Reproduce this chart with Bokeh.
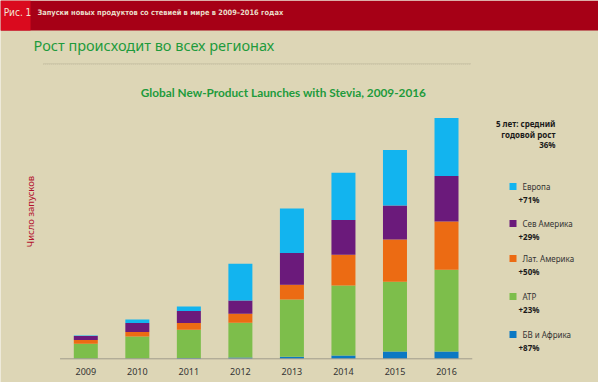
from bokeh.plotting import figure
from bokeh.models import ColumnDataSource, Label, BoxAnnotation, Range1d
from bokeh.core.properties import value
from bokeh.embed import file_html
from bokeh.resources import INLINE

# ---- data ----
years = [2009, 2010, 2011, 2012, 2013, 2014, 2015, 2016]
year_labels = [str(y) for y in years]
mea = [3, 3, 7, 13, 20, 33, 73, 73]
apac = [147, 220, 283, 347, 573, 700, 697, 817]
latam = [37, 44, 67, 90, 147, 307, 423, 483]
north_america = [40, 90, 120, 133, 317, 347, 340, 454]
europe = [6, 36, 46, 367, 446, 473, 554, 580]

series_keys = ["mea", "apac", "latam", "na", "europe"]
series_names = ["БВ и Африка", "АТР", "Лат. Америка", "Сев Америка", "Европа"]
series_growth = ["+87%", "+23%", "+50%", "+29%", "+71%"]
series_colors = ["#0B78C3", "#7DBE4B", "#EC6B13", "#6B1A7B", "#12B4EF"]

header_tag = "Рис. 1"
header_text = "Запуски новых продуктов со стевией в мире в 2009–2016 годах"
subtitle = "Рост происходит во всех регионах"
chart_title = "Global New-Product Launches with Stevia, 2009-2016"
y_label = "Число запусков"
note_lines = ["5 лет: средний", "годовой рост", "36%"]

BG = "#DDD6B6"
W, H = 598, 382
COND = "'DejaVu Sans Condensed', 'Liberation Sans', sans-serif"


def sx(px):
    return px


def sy(py):
    return H - py


# scale: pixels per year and units per pixel
px_per_year = 51.53
units_per_px = 10.0
first_center = sx(85.3)
base_px = sy(358.3)

x0 = years[0] - first_center / px_per_year
y0 = -base_px * units_per_px

p = figure(width=W, height=H, output_backend="svg", toolbar_location=None,
           x_range=Range1d(x0, x0 + W / px_per_year),
           y_range=Range1d(y0, y0 + H * units_per_px),
           x_axis_location=None, y_axis_location=None, min_border=0)
p.grid.visible = False
p.outline_line_color = None
p.background_fill_color = BG
p.border_fill_color = BG

src = ColumnDataSource(dict(x=years, mea=mea, apac=apac, latam=latam,
                            na=north_america, europe=europe))
p.vbar_stack(series_keys, x="x", width=24 / px_per_year, source=src,
             color=series_colors, line_color=None)

# baseline
p.line(x=[years[0] - 0.5, years[-1] + 0.5], y=[0, 0], line_color="#A09C8C", line_width=1)

# year labels
p.text(x=years, y=[0] * len(years), text=year_labels, y_offset=13,
       text_align="center", text_baseline="middle",
       text_font=value("Noto Sans"), text_font_size="9px", text_color="#333333")

# header band
p.add_layout(BoxAnnotation(left=0, right=W, bottom=sy(30), top=H,
                           left_units="screen", right_units="screen",
                           bottom_units="screen", top_units="screen",
                           fill_color="#A60016", fill_alpha=1, line_color=None, level="underlay"))
p.add_layout(BoxAnnotation(left=0, right=sx(30), bottom=sy(30), top=H,
                           left_units="screen", right_units="screen",
                           bottom_units="screen", top_units="screen",
                           fill_color="#DA0A1E", fill_alpha=1, line_color=None, level="underlay"))
p.add_layout(Label(x=sx(17), y=sy(12), x_units="screen", y_units="screen", text=header_tag,
                   text_align="center", text_baseline="middle", text_color="#F2E6D6",
                   text_font=COND, text_font_size="10px"))
p.add_layout(Label(x=sx(37), y=sy(12), x_units="screen", y_units="screen", text=header_text,
                   text_align="left", text_baseline="middle", text_color="#EADCC8",
                   text_font=COND, text_font_style="bold", text_font_size="7.4px"))

# subtitle
p.add_layout(Label(x=sx(33), y=sy(44), x_units="screen", y_units="screen", text=subtitle,
                   text_align="left", text_baseline="middle", text_color="#1E9B3C",
                   text_font="Noto Sans", text_font_size="14.5px"))

# dotted rule
p.add_layout(BoxAnnotation(left=sx(43), right=sx(470), bottom=sy(63.8), top=sy(63),
                           left_units="screen", right_units="screen",
                           bottom_units="screen", top_units="screen",
                           fill_alpha=0, line_color="#8C8670", line_width=1, line_dash="1 1"))

# chart title
p.add_layout(Label(x=sx(283), y=sy(92), x_units="screen", y_units="screen", text=chart_title,
                   text_align="center", text_baseline="middle", text_color="#1E9B3C",
                   text_font="Lato", text_font_style="bold", text_font_size="11.8px"))

# y label
p.add_layout(Label(x=sx(30), y=sy(211), x_units="screen", y_units="screen", text=y_label,
                   angle=1.5708, text_align="center", text_baseline="middle",
                   text_color="#B3122E", text_font="Noto Sans", text_font_size="9.5px"))

# note
for i, t in enumerate(note_lines):
    p.add_layout(Label(x=sx(555), y=sy(123 + 10.5 * i), x_units="screen", y_units="screen",
                       text=t, text_align="right", text_baseline="middle", text_color="#1A1A1A",
                       text_font="Noto Sans", text_font_style="bold", text_font_size="8px"))

# legend (top-down: Europe first)
leg_y = [186, 223, 258, 296, 334]
for k, i in enumerate(reversed(range(len(series_keys)))):
    yy = leg_y[k]
    p.add_layout(BoxAnnotation(left=sx(509), right=sx(516), bottom=sy(yy + 3.5), top=sy(yy - 3.5),
                               left_units="screen", right_units="screen",
                               bottom_units="screen", top_units="screen",
                               fill_color=series_colors[i], fill_alpha=1, line_color=None))
    p.add_layout(Label(x=sx(522), y=sy(yy), x_units="screen", y_units="screen",
                       text=series_names[i], text_align="left", text_baseline="middle",
                       text_color="#333333", text_font="Noto Sans", text_font_size="8px"))
    p.add_layout(Label(x=sx(518), y=sy(yy + 12.5), x_units="screen", y_units="screen",
                       text=series_growth[i], text_align="left", text_baseline="middle",
                       text_color="#1A1A1A", text_font="Noto Sans", text_font_style="bold",
                       text_font_size="8px"))

open("out.html", "w").write(file_html(p, INLINE))
